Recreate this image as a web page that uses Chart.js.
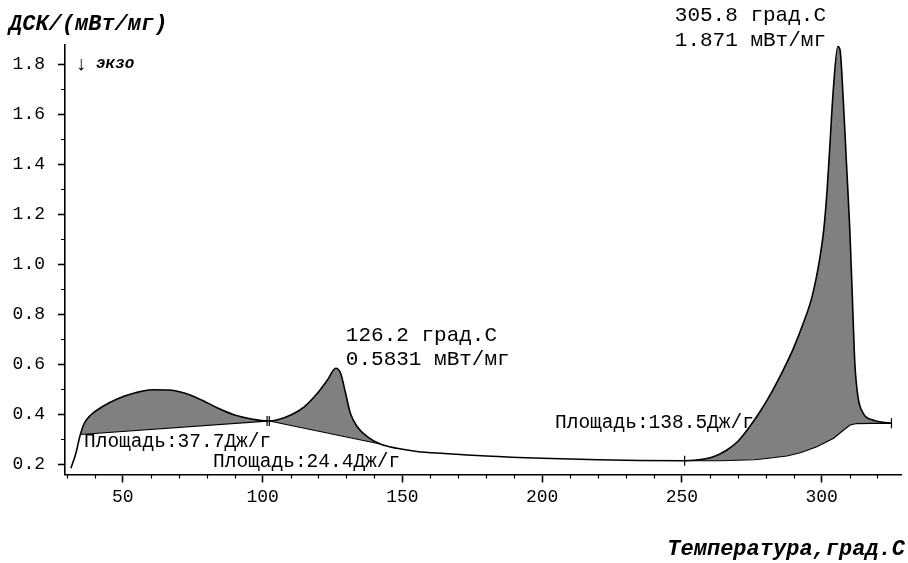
<!DOCTYPE html>
<html>
<head>
<meta charset="utf-8">
<script src="https://cdn.jsdelivr.net/npm/chart.js@4.4.1/dist/chart.umd.min.js"></script>
<style>
  html, body { margin: 0; padding: 0; background: #fff; }
</style>
</head>
<body>
<canvas id="chart" width="908" height="563"></canvas>
<script>

/* ---------------- data ---------------- */

// DSC signal, temperature (град.С) vs mW/mg
const temps = [31.4, 33.2, 34.6, 36.2, 38.5, 42.6, 48.6, 54.5, 60.4, 66.3, 72.3, 78.2, 84.1, 90, 96, 102,
  105.4, 110.1, 114.9, 119.6, 123.2, 126.2, 127.9, 129.7, 131.4, 133.8, 137.4, 142.1, 148.1, 155.2,
  165, 180, 200, 220, 235, 251, 258, 262, 266, 270, 274, 278, 282, 286, 290, 293.5, 296.6, 299,
  300.8, 302, 303.1, 304.2, 305.8, 306.6, 307.7, 308.9, 310.1, 311, 311.9, 313, 314.9, 318.4, 321.5, 325];
const dsc = [0.183, 0.243, 0.31, 0.363, 0.396, 0.429, 0.463, 0.485, 0.497, 0.496, 0.483, 0.456, 0.423, 0.396, 0.38, 0.372,
  0.377, 0.396, 0.429, 0.483, 0.536, 0.583, 0.563, 0.483, 0.403, 0.35, 0.31, 0.28, 0.263, 0.25,
  0.242, 0.232, 0.223, 0.217, 0.214, 0.213, 0.22, 0.232, 0.255, 0.29, 0.345, 0.41, 0.485, 0.57, 0.665, 0.765, 0.87, 1.0,
  1.14, 1.3, 1.5, 1.7, 1.871, 1.857, 1.67, 1.404, 1.137, 0.87, 0.603, 0.47, 0.403, 0.376, 0.368, 0.363];

// integration baselines
const base1T = [34.8, 101.6];
const base1V = [0.318, 0.372];
const base2T = [102.4, 142.1];
const base2V = [0.372, 0.28];
const base3T = [251, 264, 276, 281, 287.6, 292.4, 298.3, 304.3, 307.9, 310.2, 312.6, 318, 325];
const base3V = [0.213, 0.213, 0.217, 0.223, 0.232, 0.245, 0.269, 0.303, 0.336, 0.356, 0.362, 0.363, 0.363];

// peak tops and areas
const peakT = [126.2, 305.8];
const peakV = [0.5831, 1.871];
const areaLabels = ['Площадь:37.7Дж/г', 'Площадь:24.4Дж/г', 'Площадь:138.5Дж/г'];

const xTicks = [50, 100, 150, 200, 250, 300];
const yTicks = [0.2, 0.4, 0.6, 0.8, 1.0, 1.2, 1.4, 1.6, 1.8];

/* ---------------- helpers ---------------- */

const FONT = "'Liberation Mono', 'Courier New', monospace";
const GRAY = '#808080';

function toPoints(xs, ys) {
  return xs.map((x, i) => ({ x: x, y: ys[i] }));
}

function curveBetween(t0, t1) {
  return toPoints(temps, dsc).filter((p) => p.x >= t0 && p.x <= t1);
}

function markRadius(ctx) {
  let marks = ctx.dataset.marks || [];
  let n = ctx.dataset.data.length;
  let idx = ctx.dataIndex;
  if (marks.includes('first') && idx == 0) return 5;
  if (marks.includes('last') && idx == n - 1) return 5;
  return 0;
}

function baseline(xs, ys, marks) {
  return {
    data: toPoints(xs, ys),
    borderColor: '#000',
    borderWidth: 1.2,
    fill: false,
    marks: marks,
    pointStyle: 'line',
    rotation: 90,
    pointRadius: markRadius,
    pointBorderColor: '#000',
    pointBorderWidth: 1.2,
  };
}

function areaFill(t0, t1, target) {
  return {
    data: curveBetween(t0, t1),
    borderWidth: 0,
    pointRadius: 0,
    cubicInterpolationMode: 'monotone',
    fill: { target: target },
    backgroundColor: GRAY,
  };
}

/* ---------------- text and minor ticks ---------------- */

const decorPlugin = {
  id: 'decor',
  afterDraw(chart) {
    let ctx = chart.ctx;
    let xs = chart.scales.x;
    let ys = chart.scales.y;
    let area = chart.chartArea;
    ctx.save();

    // minor ticks
    ctx.strokeStyle = '#000';
    ctx.lineWidth = 1.2;
    ctx.beginPath();
    for (let t = 30; t <= 320; t += 10) {
      if (t % 50 == 0) continue;
      let px = Math.round(xs.getPixelForValue(t)) + 0.5;
      ctx.moveTo(px, area.bottom);
      ctx.lineTo(px, area.bottom + 4);
    }
    for (let k = 3; k <= 17; k += 2) {
      let py = Math.round(ys.getPixelForValue(k / 10)) + 0.5;
      ctx.moveTo(area.left - 4, py);
      ctx.lineTo(area.left, py);
    }
    ctx.stroke();

    ctx.fillStyle = '#000';
    ctx.textBaseline = 'middle';
    ctx.textAlign = 'left';

    // axis titles
    ctx.font = 'italic bold 22px ' + FONT;
    ctx.fillText('ДСК/(мВт/мг)', 9, 24);
    ctx.textAlign = 'right';
    ctx.fillText('Температура,град.С', 905, 549);

    ctx.textAlign = 'left';
    ctx.font = '20px ' + FONT;
    ctx.fillText('↓', 75, 65);
    ctx.font = 'italic bold 16px ' + FONT;
    ctx.fillText('экзо', 96, 64);

    // peak labels
    ctx.font = '21px ' + FONT;
    let offsets = [[10, -33, -9], [-163, -31, -6]];
    peakT.forEach((t, i) => {
      let px = xs.getPixelForValue(t);
      let py = ys.getPixelForValue(peakV[i]);
      let o = offsets[i];
      ctx.fillText(t.toFixed(1) + ' град.С', px + o[0], py + o[1]);
      ctx.fillText(peakV[i] + ' мВт/мг', px + o[0], py + o[2]);
    });

    // area labels
    ctx.font = '19.5px ' + FONT;
    let areaPos = [[84, 442], [213, 462], [555, 423]];
    areaLabels.forEach((s, i) => {
      ctx.fillText(s, areaPos[i][0], areaPos[i][1]);
    });

    ctx.restore();
  }
};

/* ---------------- chart ---------------- */

let chart = new Chart(document.getElementById('chart').getContext('2d'), {
  type: 'line',
  data: {
    datasets: [
      {
        data: toPoints(temps, dsc),
        borderColor: '#000',
        borderWidth: 1.6,
        pointRadius: 0,
        cubicInterpolationMode: 'monotone',
        fill: false,
      },
      baseline(base1T, base1V, ['last']),
      baseline(base2T, base2V, ['first']),
      baseline(base3T, base3V, ['first', 'last']),
      areaFill(34.6, 102, 1),
      areaFill(102, 142.1, 2),
      areaFill(251, 325, 3),
    ],
  },
  options: {
    responsive: false,
    animation: false,
    events: [],
    devicePixelRatio: 1,
    layout: { padding: { left: 0, right: 0, top: 45, bottom: 0 } },
    plugins: {
      legend: { display: false },
      tooltip: { enabled: false },
      filler: { propagate: false },
    },
    scales: {
      x: {
        type: 'linear',
        min: 29.3,
        max: 328.7,
        afterBuildTicks: (s) => { s.ticks = xTicks.map((v) => ({ value: v })); },
        afterFit: (s) => { s.height = 88.5; },
        border: { display: true, color: '#000', width: 1.6 },
        grid: { drawOnChartArea: false, drawTicks: true, tickLength: 8, tickColor: '#000', tickWidth: 1.6 },
        ticks: {
          padding: 4,
          color: '#000',
          font: { family: FONT, size: 18 },
          maxRotation: 0,
          callback: (v) => String(v),
        },
      },
      y: {
        type: 'linear',
        min: 0.158,
        max: 1.877,
        afterBuildTicks: (s) => { s.ticks = yTicks.map((v) => ({ value: v })); },
        afterFit: (s) => { s.width = 65; },
        border: { display: true, color: '#000', width: 1.6 },
        grid: { drawOnChartArea: false, drawTicks: true, tickLength: 7, tickColor: '#000', tickWidth: 1.6 },
        ticks: {
          padding: 13,
          color: '#000',
          font: { family: FONT, size: 18 },
          callback: (v) => v.toFixed(1),
        },
      },
    },
  },
  plugins: [decorPlugin],
});

</script>
</body>
</html>
